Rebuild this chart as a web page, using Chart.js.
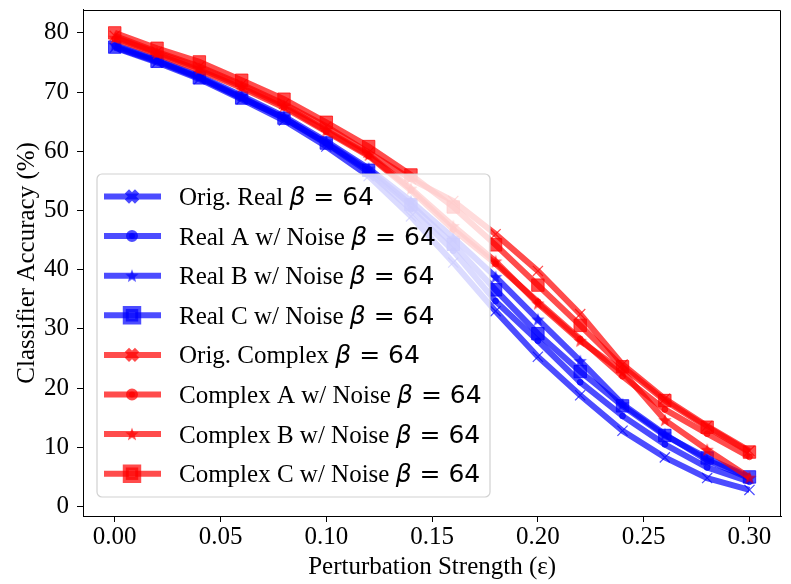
<!DOCTYPE html>
<html><head><meta charset="utf-8">
<script src="https://cdn.jsdelivr.net/npm/chart.js@4.4.1/dist/chart.umd.min.js"></script>
<style>html,body{margin:0;padding:0;background:#fff;overflow:hidden}</style>
</head><body>
<canvas id="c" width="791" height="584"></canvas>
<script>
// ---------------- data ----------------
const epsilons = [0.00,0.02,0.04,0.06,0.08,0.10,0.12,0.14,0.16,0.18,0.20,0.22,0.24,0.26,0.28,0.30];
const xTicks = [0.00,0.05,0.10,0.15,0.20,0.25,0.30];
const yTicks = [0,10,20,30,40,50,60,70,80];
const seriesNames = ["Orig. Real","Real A w/ Noise","Real B w/ Noise","Real C w/ Noise",
                     "Orig. Complex","Complex A w/ Noise","Complex B w/ Noise","Complex C w/ Noise"];
const betaLabel = "64";
const origReal    = [77.5,75.0,72.2,68.8,65.2,60.8,55.8,49.0,41.2,33.0,25.3,18.8,12.8,8.3,4.8,2.8];
const realA       = [77.8,75.3,72.5,69.1,65.6,61.3,56.5,50.2,43.2,34.7,28.0,21.0,15.3,10.5,6.6,4.2];
const realB       = [78.0,75.5,72.7,69.4,65.9,61.7,57.1,51.6,45.4,38.8,31.6,24.6,17.3,12.2,7.8,4.8];
const realC       = [77.6,75.2,72.4,69.0,65.6,61.4,56.8,51.0,44.3,36.6,29.2,22.8,17.0,12.0,8.2,5.0];
const origComplex = [79.5,76.8,74.3,71.3,68.0,64.2,59.8,55.3,51.6,46.0,39.8,32.5,24.0,18.2,13.6,9.4];
const complexA    = [79.0,76.4,73.7,70.7,67.4,63.3,59.2,53.4,46.8,41.0,34.6,28.3,22.0,16.4,12.3,8.4];
const complexB    = [79.2,76.6,74.0,71.0,67.7,63.5,59.4,53.7,47.4,41.4,34.3,28.0,22.8,14.6,9.6,4.9];
const complexC    = [80.0,77.4,75.1,72.0,68.8,64.9,60.8,56.0,50.6,44.2,37.4,30.6,23.6,17.9,13.4,9.2];
const seriesValues = [origReal,realA,realB,realC,origComplex,complexA,complexB,complexC];

// ---------------- styles ----------------
const BLUE = 'rgba(0,0,255,0.7)';
const RED  = 'rgba(255,0,0,0.7)';
function starCanvas(color){
  const s = 16, c = document.createElement('canvas');
  c.width = s; c.height = s;
  const g = c.getContext('2d');
  const cx = s/2, cy = s/2 + 0.5, R = 7, r = 2.9;
  g.beginPath();
  for (let i = 0; i < 10; i++){
    const rad = (i % 2 === 0) ? R : r;
    const a = -Math.PI/2 + i*Math.PI/5;
    const px = cx + rad*Math.cos(a), py = cy + rad*Math.sin(a);
    if (i === 0) g.moveTo(px,py); else g.lineTo(px,py);
  }
  g.closePath();
  g.fillStyle = color; g.fill();
  return c;
}
const markerDefs = [
  {style:'crossRot', radius:7.2, bw:1.2},
  {style:'circle',   radius:3.0, bw:0.8},
  {style:'star',     radius:7,   bw:0},
  {style:'rect',     radius:8.8, bw:1}
];
const stars = {blue: starCanvas(BLUE), red: starCanvas(RED)};

const datasets = seriesValues.map((vals,i)=>{
  const isRed = i >= 4;
  const col = isRed ? RED : BLUE;
  const m = markerDefs[i % 4];
  const ps = m.style === 'star' ? (isRed ? stars.red : stars.blue) : m.style;
  return {
    label: seriesNames[i] + ' β = ' + betaLabel,
    data: epsilons.map((x,k)=>({x:x, y:vals[k]})),
    borderColor: col,
    backgroundColor: col,
    borderWidth: 6,
    pointStyle: ps,
    pointRadius: m.radius,
    pointBorderWidth: m.bw,
    pointBackgroundColor: col,
    pointBorderColor: col,
    tension: 0,
    fill: false,
    order: 8 - i,
    _marker: m, _ps: ps, _color: col, _name: seriesNames[i]
  };
});

const SERIF = "'Liberation Serif','Times New Roman',serif";

const framePlugin = {
  id:'frame',
  afterDatasetsDraw(chart){
    const ctx = chart.ctx, a = chart.chartArea;
    ctx.save();
    ctx.strokeStyle = '#000'; ctx.lineWidth = 1;
    ctx.beginPath();
    ctx.moveTo(Math.round(a.left)+0.5, Math.round(a.top)+0.5);
    ctx.lineTo(Math.round(a.right)-0.5, Math.round(a.top)+0.5);
    ctx.lineTo(Math.round(a.right)-0.5, Math.round(a.bottom)+0.5);
    ctx.stroke();
    ctx.restore();
  }
};

const legendPlugin = {
  id:'innerLegend',
  afterDraw(chart){
    const ctx = chart.ctx, a = chart.chartArea;
    const bx = a.left + 14, bw = 393, bh = 323;
    const by = a.bottom - 19 - bh;
    ctx.save();
    const r = 5;
    ctx.beginPath();
    ctx.moveTo(bx+r, by);
    ctx.arcTo(bx+bw, by, bx+bw, by+bh, r);
    ctx.arcTo(bx+bw, by+bh, bx, by+bh, r);
    ctx.arcTo(bx, by+bh, bx, by, r);
    ctx.arcTo(bx, by, bx+bw, by, r);
    ctx.closePath();
    ctx.fillStyle = 'rgba(255,255,255,0.8)';
    ctx.fill();
    ctx.strokeStyle = 'rgba(204,204,204,0.9)';
    ctx.lineWidth = 1.2;
    ctx.stroke();
    chart.data.datasets.forEach((ds,i)=>{
      const cy = by + 22.5 + i*39.6;
      ctx.strokeStyle = ds._color;
      ctx.lineWidth = 6;
      ctx.lineCap = 'butt';
      ctx.beginPath();
      ctx.moveTo(bx+7, cy); ctx.lineTo(bx+64, cy);
      ctx.stroke();
      ctx.fillStyle = ds._color;
      ctx.strokeStyle = ds._color;
      Chart.helpers.drawPoint(ctx, {pointStyle: ds._ps, radius: ds._marker.radius, rotation:0, borderWidth: ds._marker.bw}, bx+35, cy);
      ctx.fillStyle = '#000';
      ctx.textBaseline = 'alphabetic';
      ctx.textAlign = 'left';
      let tx = bx + 82;
      const base = cy + 8.5;
      ctx.font = "25px " + SERIF;
      const t1 = ds._name + ' ';
      ctx.fillText(t1, tx, base);
      tx += ctx.measureText(t1).width;
      ctx.font = "italic 25px 'DejaVu Sans'";
      ctx.fillText('β', tx, base);
      tx += ctx.measureText('β').width;
      ctx.font = "25px 'DejaVu Sans'";
      ctx.fillText(' = ' + betaLabel, tx, base);
    });
    ctx.restore();
  }
};

new Chart(document.getElementById('c'), {
  type: 'line',
  data: { datasets },
  options: {
    responsive: false,
    devicePixelRatio: 1,
    animation: false,
    layout: { padding: { top: 8, right: -3, left: 0, bottom: 0 } },
    plugins: { legend: { display: false }, tooltip: { enabled: false } },
    scales: {
      x: {
        type: 'linear', min: -0.015, max: 0.315,
        afterBuildTicks: s => { s.ticks = xTicks.map(v=>({value:v})); },
        afterFit: s => { s.height = 68; s.paddingLeft = 0; s.paddingRight = 0; },
        ticks: { callback: v => Number(v).toFixed(2), font: { family: SERIF, size: 25, lineHeight: 1.0 }, color: '#000', padding: 3, autoSkip: false, maxRotation: 0 },
        grid: { display: true, drawOnChartArea: false, drawTicks: true, tickLength: 6, color: '#000', lineWidth: 1 },
        border: { display: true, color: '#000', width: 1 },
        title: { display: true, text: 'Perturbation Strength (ε)', font: { family: SERIF, size: 25 }, color: '#000', padding: { top: 0, bottom: 2 } }
      },
      y: {
        type: 'linear', min: -1.6, max: 83.9,
        afterBuildTicks: s => { s.ticks = yTicks.map(v=>({value:v})); },
        afterFit: s => { s.width = 83; s.paddingTop = 0; s.paddingBottom = 0; },
        ticks: { font: { family: SERIF, size: 25 }, color: '#000', padding: 8 },
        grid: { display: true, drawOnChartArea: false, drawTicks: true, tickLength: 6, color: '#000', lineWidth: 1 },
        border: { display: true, color: '#000', width: 1 },
        title: { display: true, text: 'Classifier Accuracy (%)', font: { family: SERIF, size: 25 }, color: '#000', padding: { top: 12, bottom: 0 } }
      }
    }
  },
  plugins: [framePlugin, legendPlugin]
});
</script>
</body></html>
